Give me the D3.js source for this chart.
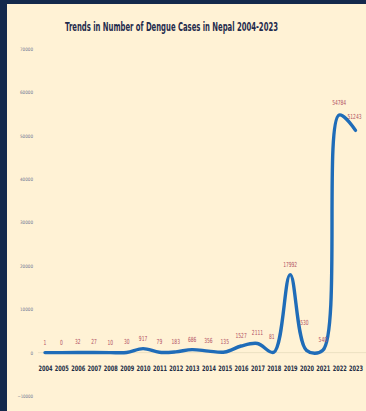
<!DOCTYPE html>
<html>
<head>
<meta charset="utf-8">
<script src="https://cdn.jsdelivr.net/npm/d3@7"></script>
<style>
  html, body { margin: 0; padding: 0; background: #14294c; }
  svg { display: block; }
  text { font-family: "Liberation Sans Narrow", "DejaVu Sans Condensed", "Liberation Sans", sans-serif; }
</style>
</head>
<body>
<svg id="chart" width="366" height="411"></svg>
<script>
// Dengue cases reported in Nepal by year
const years = ["2004","2005","2006","2007","2008","2009","2010","2011","2012","2013",
               "2014","2015","2016","2017","2018","2019","2020","2021","2022","2023"];
const cases = [1, 0, 32, 27, 10, 30, 917, 79, 183, 686,
               356, 135, 1527, 2111, 81, 17992, 530, 540, 54784, 51243];
const yTicks = [-10000, 0, 10000, 20000, 30000, 40000, 50000, 60000, 70000];
const title = "Trends in Number of Dengue Cases in Nepal 2004-2023";

const W = 366, H = 411;
const svg = d3.select("#chart");

// cream panel inside the navy frame
svg.append("rect").attr("x", 7).attr("y", 4).attr("width", W - 7).attr("height", H - 4)
  .attr("fill", "#fff2d5");

const x = d3.scalePoint().domain(years).range([45, 355.5]);
const y = d3.scaleLinear().domain([-10000, 70000]).range([396, 49]);

// squeeze each text horizontally about its anchor so it spans the given width
function squeeze(sel, widthFn) {
  sel.each(function (d, i) {
    const natural = this.getComputedTextLength();
    const target = widthFn(this.textContent, d, i);
    const k = Math.min(1, target / natural);
    const ax = +this.getAttribute("x") || 0;
    d3.select(this).attr("transform", `translate(${ax},0) scale(${k},1) translate(${-ax},0)`);
  });
}

// title
svg.append("text")
  .attr("x", 171.5).attr("y", 31)
  .attr("text-anchor", "middle")
  .attr("font-size", 12.5).attr("font-weight", "bold")
  .attr("fill", "#1f2b4d")
  .text(title)
  .call(squeeze, () => 213);

// zero line
svg.append("line")
  .attr("x1", 38).attr("x2", W).attr("y1", y(0)).attr("y2", y(0))
  .attr("stroke", "#ece0c2").attr("stroke-width", 1);

// y axis labels (no axis line)
const yAxis = d3.axisLeft(y).tickValues(yTicks).tickSize(0).tickPadding(0).tickFormat(d3.format("d"));
const gy = svg.append("g").attr("transform", "translate(33,0)").call(yAxis);
gy.select(".domain").remove();
gy.selectAll("text")
  .attr("font-size", 4.6).attr("fill", "#6e7290")
  .style("font-family", "'Liberation Sans Narrow','DejaVu Sans Condensed',sans-serif")
  .call(squeeze, t => t.length * 2.6);

// x axis labels
const xAxis = d3.axisBottom(x).tickSize(0).tickPadding(0);
const gx = svg.append("g").attr("transform", "translate(0,366)").call(xAxis);
gx.select(".domain").remove();
gx.selectAll("text")
  .attr("font-size", 7.5).attr("font-weight", "bold").attr("fill", "#222c45")
  .style("font-family", "'Liberation Sans Narrow','DejaVu Sans Condensed',sans-serif")
  .attr("dy", "0.71em")
  .call(squeeze, () => 14);

// smoothed line
const pts = years.map((yr, i) => ({ year: yr, value: cases[i] }));
const line = d3.line()
  .x(d => x(d.year))
  .y(d => y(d.value))
  .curve(d3.curveCatmullRom.alpha(0.5));

svg.append("path")
  .datum(pts)
  .attr("fill", "none")
  .attr("stroke", "#1f6cb8")
  .attr("stroke-width", 3.4)
  .attr("stroke-linejoin", "round")
  .attr("stroke-linecap", "round")
  .attr("d", line);

// value labels; a few are nudged off the line
const nudge = { "2018": [-2, -5], "2020": [-2, -17], "2022": [0, -2], "2023": [-1, -3] };
svg.append("g").selectAll("text")
  .data(pts)
  .join("text")
  .attr("x", d => x(d.year) + (nudge[d.year] ? nudge[d.year][0] : 0))
  .attr("y", d => y(d.value) - 8 + (nudge[d.year] ? nudge[d.year][1] : 0))
  .attr("text-anchor", "middle")
  .attr("font-size", 7)
  .attr("fill", "#b04d5f")
  .text(d => d.value)
  .call(squeeze, t => t.length * 2.8);
</script>
</body>
</html>
